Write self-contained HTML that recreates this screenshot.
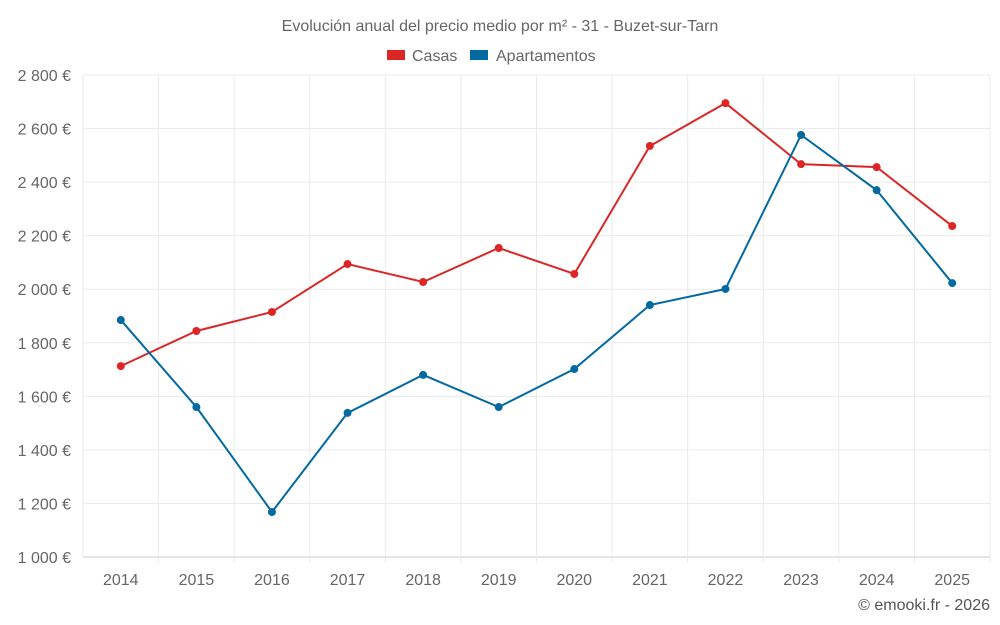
<!DOCTYPE html>
<html><head><meta charset="utf-8">
<style>
html,body{margin:0;padding:0;background:#fff;}
svg{display:block;font-family:"Liberation Sans",sans-serif;}
</style></head>
<body>
<svg id="chart" width="1000" height="625" viewBox="0 0 1000 625" xmlns="http://www.w3.org/2000/svg">
<text x="500" y="31" text-anchor="middle" font-size="16" fill="#666">Evolución anual del precio medio por m² - 31 - Buzet-sur-Tarn</text>
<g>
<g><rect x="387" y="50" width="18" height="10" fill="#dc2626"/><text x="412" y="61" font-size="16" fill="#666">Casas</text></g>
<g><rect x="470" y="50" width="18" height="10" fill="#0369a1"/><text x="496" y="61" font-size="16" fill="#666">Apartamentos</text></g>
</g>
<g id="grid"></g>
<g id="yaxis"></g>
<g id="xaxis"></g>
<g id="series"></g>
<text x="990" y="610" text-anchor="end" font-size="16" fill="#555">© emooki.fr - 2026</text>
</svg>
<script>
const categories = ["2014","2015","2016","2017","2018","2019","2020","2021","2022","2023","2024","2025"];
const casas = [1713,1844,1915,2094,2027,2154,2057,2535,2695,2467,2456,2236];
const apartamentos = [1885,1560,1168,1538,1680,1560,1702,1941,2001,2576,2370,2023];
const yTicks = [1000,1200,1400,1600,1800,2000,2200,2400,2600,2800];
const yTickLabels = ["1 000 €","1 200 €","1 400 €","1 600 €","1 800 €","2 000 €","2 200 €","2 400 €","2 600 €","2 800 €"];

const NS="http://www.w3.org/2000/svg";
const L=83,R=990,T=75,B=557,yMin=1000,yMax=2800;
const band=(R-L)/categories.length;
const x=i=>L+band*(i+0.5);
const y=v=>B-(v-yMin)/(yMax-yMin)*(B-T);
function mk(tag,attrs,parent){const e=document.createElementNS(NS,tag);for(const k in attrs)e.setAttribute(k,attrs[k]);parent.appendChild(e);return e;}
const grid=document.getElementById('grid'),ya=document.getElementById('yaxis'),xa=document.getElementById('xaxis'),ser=document.getElementById('series');
yTicks.forEach((t,i)=>{
  const ln=mk('line',{x1:L,x2:R,y1:y(t),y2:y(t),stroke:i===0?'#ccc':'#ebebeb','stroke-width':1},grid);
  
  
  const tx=mk('text',{x:71,y:y(t)+6,'text-anchor':'end','font-size':16,fill:'#666'},ya);
  tx.textContent=yTickLabels[i];
  
  
});
for(let i=0;i<=categories.length;i++){
  const gx=L+band*i;
  const ln=mk('line',{x1:gx,x2:gx,y1:T,y2:B+(i===0?0:6),stroke:'#ebebeb','stroke-width':1},grid);
  
  
}
categories.forEach((c,i)=>{
  const tx=mk('text',{x:x(i),y:585,'text-anchor':'middle','font-size':16,fill:'#666'},xa);
  tx.textContent=c;
  
  
});
function drawSeries(vals,color,name){
  const g=mk('g',{},ser);
  
  
  const p=mk('polyline',{points:vals.map((v,i)=>x(i)+','+y(v)).join(' '),fill:'none',stroke:color,'stroke-width':2},g);
  
  
  vals.forEach((v,i)=>{
    const c=mk('circle',{cx:x(i),cy:y(v),r:4,fill:color},g);
    
    
  });
}
drawSeries(casas,'#dc2626','casas');
drawSeries(apartamentos,'#0369a1','apartamentos');
</script>
</body></html>
